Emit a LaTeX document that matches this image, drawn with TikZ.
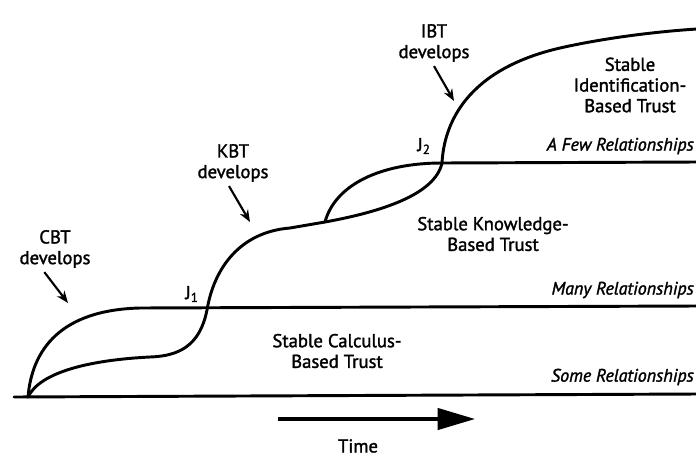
\documentclass[tikz,border=0pt]{standalone}
\usepackage{fontspec}
\setmainfont{PT Sans}[FakeBold=1.6]
\usetikzlibrary{arrows.meta}
\begin{document}
\begin{tikzpicture}[x=0.75pt,y=-0.75pt,
  curve/.style={line width=2.2pt,line cap=round,line join=round},
  lbl/.style={font=\fontsize{14}{15.5}\selectfont,align=center,inner sep=0pt},
  rel/.style={font=\fontsize{13.5}{14}\selectfont\itshape,anchor=east,inner sep=0pt},
  pointer/.style={line width=1.6pt,-{Stealth[length=9pt,width=7pt]}}]
\useasboundingbox (0,0) rectangle (696,457);
% lines
\draw[curve] (14,397) -- (697,394);
\draw[curve] (28,397) .. controls (32,350) and (60,310) .. (140,308) -- (697,306);
\draw[curve] (28,397) .. controls (40,372) and (90,360) .. (150,357)
  .. controls (180,356) and (200,345) .. (207,310)
  .. controls (214,268) and (240,232) .. (290,228)
  -- (325,222)
  .. controls (380,212) and (435,195) .. (442,163)
  .. controls (444,125) and (465,70) .. (560,48)
  .. controls (600,39) and (650,32) .. (697,29);
\draw[curve] (325,222) .. controls (335,185) and (380,163) .. (442,163) -- (697,162);
% labels
\node[lbl] (cbt) at (55,249) {CBT\\develops};
\node[lbl] (kbt) at (233,163) {KBT\\develops};
\node[lbl] (ibt) at (434,43) {IBT\\develops};
\coordinate (cbtend) at (68,303);
\coordinate (kbtend) at (250,222);
\coordinate (ibtend) at (454,101);
\draw[pointer] ([xshift=-8pt,yshift=-3pt]cbt.south) -- (cbtend);
\draw[pointer] ([xshift=-3pt,yshift=-3pt]kbt.south) -- (kbtend);
\draw[pointer] ([yshift=-3pt]ibt.south) -- (ibtend);
\node[lbl] (j1) at (192,294) {J\textsubscript{1}};
\node[lbl] (j2) at (424,146) {J\textsubscript{2}};
\node[lbl] (sibt) at (630,85) {Stable\\Identification-\\Based Trust};
\node[lbl] (skbt) at (493,234) {Stable Knowledge-\\Based Trust};
\node[lbl] (scbt) at (337,351) {Stable Calculus-\\Based Trust};
\node[rel] (few) at (694,146) {A Few Relationships};
\node[rel] (many) at (694,290) {Many Relationships};
\node[rel] (some) at (694,377) {Some Relationships};
\node[lbl] (time) at (358,446) {Time};
\coordinate (t0) at (278,419);
\coordinate (t1) at (475,419);
\draw[line width=2.4pt,-{Triangle[length=28pt,width=16pt]}] (t0) -- (t1);
\end{tikzpicture}
\end{document}
